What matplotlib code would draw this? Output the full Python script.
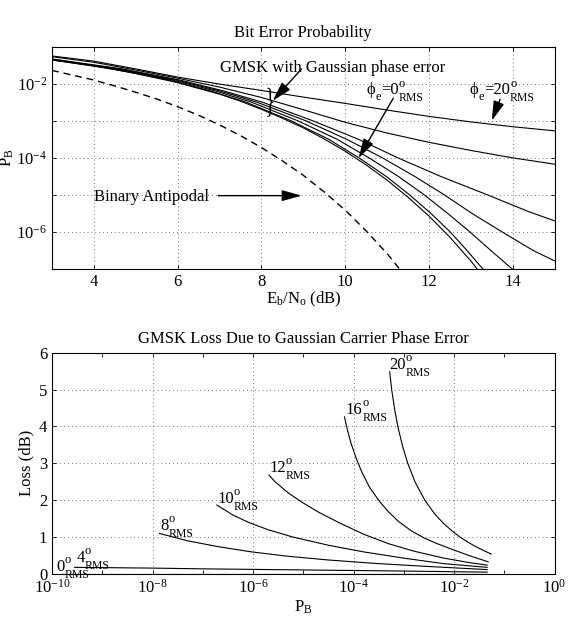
import numpy as np
import matplotlib.pyplot as plt
import matplotlib.transforms as mtransforms
from matplotlib.textpath import TextPath
from matplotlib.patches import PathPatch
from matplotlib.font_manager import FontProperties

plt.rcParams['font.family'] = 'serif'
plt.rcParams['font.serif'] = ['Liberation Serif', 'DejaVu Serif']
plt.rcParams['mathtext.fontset'] = 'custom'
plt.rcParams['mathtext.rm'] = 'Liberation Serif'
plt.rcParams['mathtext.it'] = 'Liberation Serif:italic'
plt.rcParams['mathtext.bf'] = 'Liberation Serif:bold'
plt.rcParams['font.size'] = 12
FAM = ['Liberation Serif', 'DejaVu Serif']

# ---- top panel data: Eb/No (dB) and log10(P_B) ----
eb_bpsk = [3, 3.5, 4, 4.5, 5, 5.5, 6, 6.5, 7, 7.5, 8, 8.5, 9, 9.5, 10, 10.5, 11, 11.5]
lp_bpsk = [-1.64, -1.77, -1.90, -2.06, -2.23, -2.41, -2.62, -2.85, -3.11, -3.40,
           -3.72, -4.08, -4.47, -4.92, -5.41, -5.97, -6.58, -7.28]

eb_00 = [3, 4, 5, 6, 7, 7.5, 8, 8.5, 9, 9.5, 10, 10.5, 11, 11.5, 12, 12.5, 13, 13.5]
lp_00 = [-1.36, -1.52, -1.72, -1.97, -2.28, -2.47, -2.69, -2.93, -3.19, -3.49,
         -3.82, -4.19, -4.60, -5.06, -5.57, -6.14, -6.78, -7.5]

eb_04 = [3.0, 4.45, 5.78, 6.80, 7.64, 8.71, 9.61, 10.33, 10.98, 11.54, 12.05, 12.51, 12.91, 13.29, 13.51]
lp_04 = [-1.355, -1.6, -1.9, -2.2, -2.5, -3.0, -3.5, -4.0, -4.5, -5.0, -5.5, -6.0, -6.5, -7.0, -7.3]

eb_08 = [3.0, 4.54, 5.88, 6.92, 7.77, 8.87, 9.81, 10.57, 11.27, 11.89, 12.45, 12.98, 13.48, 13.99, 14.29]
lp_08 = [-1.345, -1.6, -1.9, -2.2, -2.5, -3.0, -3.5, -4.0, -4.5, -5.0, -5.5, -6.0, -6.5, -7.0, -7.3]

eb_10 = [3.0, 4.61, 5.97, 7.03, 7.90, 9.06, 10.04, 10.89, 11.66, 12.37, 13.03, 13.75, 14.49, 15.0]
lp_10 = [-1.34, -1.6, -1.9, -2.2, -2.5, -3.0, -3.5, -4.0, -4.5, -5.0, -5.5, -6.0, -6.5, -6.78]

eb_12 = [3.0, 4.68, 6.05, 7.12, 8.03, 9.23, 10.32, 11.26, 12.28, 13.40, 14.38, 15.0]
lp_12 = [-1.33, -1.6, -1.9, -2.2, -2.5, -3.0, -3.5, -4.0, -4.5, -5.0, -5.45, -5.7]

eb_16 = [3, 4, 5, 6, 7, 8, 9, 10, 11, 12, 13, 14, 15]
lp_16 = [-1.27, -1.42, -1.63, -1.85, -2.09, -2.37, -2.70, -3.04, -3.33, -3.58, -3.80, -4.0, -4.17]

eb_20 = [3, 4, 5, 6, 7, 8, 9, 10, 11, 12, 13, 14, 15]
lp_20 = [-1.25, -1.39, -1.60, -1.82, -2.01, -2.18, -2.36, -2.53, -2.71, -2.88, -3.03, -3.16, -3.27]

# ---- bottom panel data: log10(P_B) and loss (dB) ----
lpb_00 = [-9.6, -5.0, -1.34]
loss_00 = [0.0, 0.0, 0.0]
lpb_04 = [-9.55, -8.0, -7.0, -6.0, -5.0, -4.0, -3.0, -2.0, -1.34]
loss_04 = [0.18, 0.16, 0.14, 0.125, 0.11, 0.095, 0.08, 0.062, 0.05]
lpb_08 = [-7.86, -7.3, -6.69, -6.03, -5.3, -4.5, -3.6, -2.6, -1.34]
loss_08 = [1.10, 0.9, 0.74, 0.60, 0.48, 0.38, 0.29, 0.21, 0.12]
lpb_10 = [-6.72, -6.4, -6.09, -5.7, -5.2, -4.5, -3.8, -3.0, -2.2, -1.34]
loss_10 = [1.87, 1.6, 1.4, 1.2, 1.0, 0.78, 0.6, 0.43, 0.28, 0.18]
lpb_12 = [-5.68, -5.56, -5.3, -5.03, -4.7, -4.3, -3.8, -3.3, -2.8, -2.2, -1.7, -1.34]
loss_12 = [2.68, 2.5, 2.2, 1.95, 1.68, 1.4, 1.08, 0.82, 0.62, 0.43, 0.31, 0.24]
lpb_16 = [-4.18, -4.12, -4.05, -3.95, -3.83, -3.68, -3.5, -3.3, -3.1, -2.85, -2.6, -2.35, -2.1, -1.7, -1.32]
loss_16 = [4.26, 3.9, 3.55, 3.15, 2.75, 2.35, 2.0, 1.68, 1.42, 1.17, 0.98, 0.83, 0.7, 0.5, 0.33]
lpb_20 = [-3.28, -3.24, -3.18, -3.11, -3.02, -2.92, -2.77, -2.58, -2.38, -2.2, -2.04, -1.88, -1.72, -1.55, -1.4, -1.26]
loss_20 = [5.48, 5.0, 4.45, 3.95, 3.45, 3.0, 2.48, 2.0, 1.62, 1.36, 1.17, 1.0, 0.86, 0.73, 0.63, 0.54]

W, H = 569, 629
fig = plt.figure(figsize=(W / 100, H / 100), dpi=100)
ax1 = fig.add_axes([52 / W, 1 - 269 / H, 502.5 / W, 222.3 / H])
ax2 = fig.add_axes([52 / W, 1 - 574 / H, 502.5 / W, 221.3 / H])
renderer = fig.canvas.get_renderer()


def style(ax):
    ax.tick_params(which='both', direction='in', top=True, right=True,
                   length=3, width=0.6, labelsize=12, pad=3.5)
    for s in ax.spines.values():
        s.set_linewidth(0.8)
    ax.grid(True, which='major', linestyle=(0, (1, 3)), color='0.45', linewidth=0.7)
    ax.set_axisbelow(True)


def rich(ax, x, y, groups):
    # groups of (text, size, rise in pt) that share one start; matlab-like ^ and _
    dx = 0.0
    for group in groups:
        wmax = 0.0
        for s, fs, dy in group:
            t = ax.annotate(s, xy=(x, y), xytext=(dx, dy), textcoords='offset points',
                            fontsize=fs, ha='left', va='baseline', family=FAM)
            wmax = max(wmax, t.get_window_extent(renderer).width * 72 / fig.dpi)
        dx += wmax


# ---------------- top: bit error probability ----------------
lw = 0.8
ax1.semilogy(eb_bpsk, 10.0 ** np.array(lp_bpsk), color='k', lw=1.0, linestyle=(0, (5, 3.5)))
for eb, lp in [(eb_00, lp_00), (eb_04, lp_04), (eb_08, lp_08), (eb_10, lp_10),
               (eb_12, lp_12), (eb_16, lp_16), (eb_20, lp_20)]:
    ax1.semilogy(eb, 10.0 ** np.array(lp), color='k', lw=lw)

ax1.set_xlim(3, 15)
ax1.set_ylim(1e-7, 1e-1)
ax1.set_xticks([4, 6, 8, 10, 12, 14])
ax1.set_yticks([1e-6, 1e-5, 1e-4, 1e-3, 1e-2])
ax1.set_yticklabels([r'$10^{-6}$', '', r'$10^{-4}$', '', r'$10^{-2}$'])
ax1.yaxis.set_minor_locator(plt.NullLocator())
style(ax1)
ax1.set_title('Bit Error Probability', fontsize=12, pad=7)
ax1.set_xlabel(r'E$_{\rm b}$/N$_{\rm o}$ (dB)', labelpad=0)
ax1.set_ylabel(r'P$_{\rm B}$', labelpad=0)

arw = dict(arrowstyle='-|>,head_length=1.0,head_width=0.28', color='k', lw=1.0,
           mutation_scale=12, shrinkA=0, shrinkB=0)
ax1.text(7.0, 10 ** -1.69, 'GMSK with Gaussian phase error', ha='left', va='baseline')
ax1.annotate('', xy=(8.27, 10 ** -2.46), xytext=(8.96, 10 ** -1.6), arrowprops=arw)
rich(ax1, 10.52, 10 ** -2.285, [[('ϕ', 12, 0)], [('e', 9, -4)], [('=0', 12, 0)],
                                [('o', 9, 5.5), ('RMS', 8.5, -5)]])
ax1.annotate('', xy=(10.32, 10 ** -4.01), xytext=(11.15, 10 ** -2.39), arrowprops=arw)
rich(ax1, 12.98, 10 ** -2.285, [[('ϕ', 12, 0)], [('e', 9, -4)], [('=20', 12, 0)],
                                [('o', 9, 5.5), ('RMS', 8.5, -5)]])
ax1.annotate('', xy=(13.50, 10 ** -3.0), xytext=(13.70, 10 ** -2.42), arrowprops=arw)
ax1.text(4.01, 10 ** -5.17, 'Binary Antipodal', ha='left', va='baseline')
ax1.annotate('', xy=(8.96, 10 ** -5.02), xytext=(6.97, 10 ** -5.02), arrowprops=arw)

# narrow tall brace over the curve bundle near 8.2 dB
tp = TextPath((0, 0), '}', size=1, prop=FontProperties(family='Liberation Serif'))
bb = tp.get_extents()
brace_w, brace_h = 6 / 100, 29 / 100  # inches
tr = (mtransforms.Affine2D()
      .translate(-(bb.x0 + bb.x1) / 2, -(bb.y0 + bb.y1) / 2)
      .scale(brace_w / bb.width, brace_h / bb.height)
      + fig.dpi_scale_trans
      + mtransforms.ScaledTranslation(8.21, 10 ** -2.5, ax1.transData))
ax1.add_patch(PathPatch(tp, transform=tr, facecolor='k', edgecolor='none', clip_on=False))

# ---------------- bottom: loss ----------------
for lpb, loss in [(lpb_00, loss_00), (lpb_04, loss_04), (lpb_08, loss_08), (lpb_10, loss_10),
                  (lpb_12, loss_12), (lpb_16, loss_16), (lpb_20, loss_20)]:
    ax2.semilogx(10.0 ** np.array(lpb), loss, color='k', lw=lw)

ax2.set_xlim(1e-10, 1)
ax2.set_ylim(0, 6)
ax2.set_xticks([1e-10, 1e-8, 1e-6, 1e-4, 1e-2, 1])
ax2.set_xticklabels([r'$10^{-10}$', r'$10^{-8}$', r'$10^{-6}$', r'$10^{-4}$', r'$10^{-2}$', r'$10^{0}$'])
ax2.set_xticks([1e-9, 1e-7, 1e-5, 1e-3, 1e-1], minor=True)
ax2.set_xticklabels([], minor=True)
ax2.set_yticks([0, 1, 2, 3, 4, 5, 6])
style(ax2)
ax2.set_title('GMSK Loss Due to Gaussian Carrier Phase Error', fontsize=12, pad=7)
ax2.set_xlabel(r'P$_{\rm B}$', labelpad=1)
ax2.set_ylabel('Loss (dB)', labelpad=3)

labels = [(-9.91, 0.09, '0'), (-9.51, 0.33, '4'), (-7.85, 1.19, '8'), (-6.71, 1.93, '10'),
          (-5.68, 2.77, '12'), (-4.15, 4.35, '16'), (-3.29, 5.57, '20')]
for lx, ly, s in labels:
    rich(ax2, 10 ** lx, ly, [[(s, 12, 0)], [('o', 9, 5.5), ('RMS', 8.5, -5)]])

fig.savefig('out.png', dpi=100)
